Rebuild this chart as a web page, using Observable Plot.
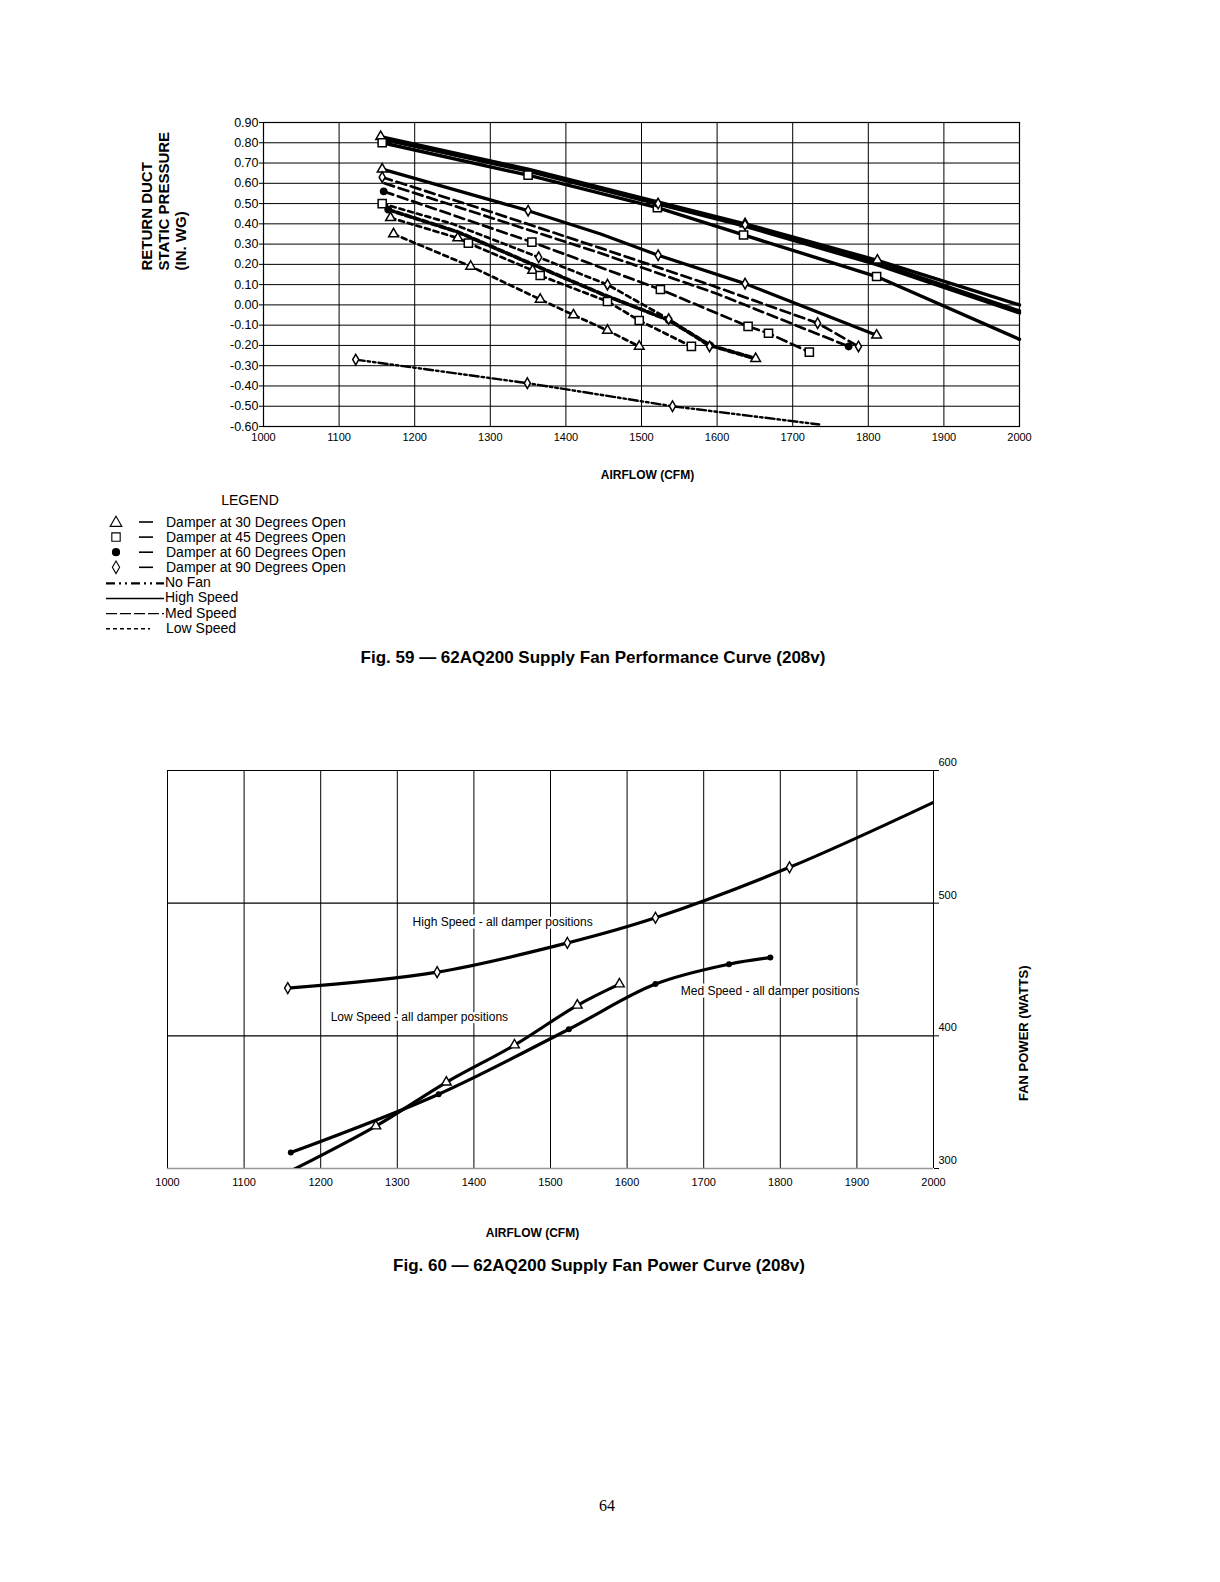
<!DOCTYPE html>
<html><head><meta charset="utf-8">
<script src="https://cdn.jsdelivr.net/npm/d3@7"></script>
<script src="https://cdn.jsdelivr.net/npm/@observablehq/plot@0.6"></script>
<style>
body{margin:0;background:#fff;width:1220px;height:1582px;position:relative;font-family:"Liberation Sans",Arial,sans-serif;color:#000;overflow:hidden}
.abs{position:absolute;white-space:nowrap}
.cap{font-weight:bold;font-size:17px;line-height:20px;transform:translateX(-50%)}
</style></head><body>
<div id="top" class="abs" style="left:0;top:0"></div>
<div id="legend" class="abs" style="left:0;top:485px"></div>
<div class="abs cap" style="left:593px;top:648px">Fig. 59 — 62AQ200 Supply Fan Performance Curve (208v)</div>
<div id="bottom" class="abs" style="left:0;top:700px"></div>
<div class="abs cap" style="left:599px;top:1256px">Fig. 60 — 62AQ200 Supply Fan Power Curve (208v)</div>
<div class="abs" style="left:607px;top:1497px;transform:translateX(-50%);font-family:'Liberation Serif','DejaVu Serif',serif;font-size:16px">64</div>
<script>
// ---------- shared ticks ----------
const airflowTicks = [1000,1100,1200,1300,1400,1500,1600,1700,1800,1900,2000];
const pressureTicks = [0.9,0.8,0.7,0.6,0.5,0.4,0.3,0.2,0.1,0,-0.1,-0.2,-0.3,-0.4,-0.5,-0.6];
const powerTicks = [300,400,500,600];

// ---------- Fig. 59 data: [airflow CFM, static pressure in. wg, marker] ----------
// marker: t = triangle (30°), s = square (45°), c = circle (60°), d = diamond (90°), "" = none
const high30 = [[1155,0.83,"t"],[1350,0.67,""],[1520,0.51,""],[1637,0.40,"t"],[1812,0.22,"t"],[2000,0.00,""]];
const high60 = [[1155,0.82,""],[1350,0.66,""],[1520,0.50,"c"],[1635,0.39,""],[1810,0.20,""],[2000,-0.04,""]];
const high90 = [[1155,0.82,""],[1350,0.665,""],[1522,0.50,"d"],[1637,0.395,"d"],[1810,0.21,""],[2000,-0.03,""]];
const high45 = [[1157,0.80,"s"],[1350,0.64,"s"],[1521,0.48,"s"],[1635,0.345,"s"],[1811,0.14,"s"],[2000,-0.17,""]];
const med30 = [[1157,0.67,"t"],[1350,0.465,"d"],[1446,0.35,""],[1522,0.245,"d"],[1637,0.105,"d"],[1811,-0.15,"t"]];
const med90 = [[1157,0.63,"d"],[1300,0.46,""],[1446,0.28,""],[1590,0.10,""],[1733,-0.09,"d"],[1787,-0.205,"d"]];
const med60 = [[1160,0.60,""],[1446,0.255,""],[1600,0.055,""],[1774,-0.205,"c"]];
const med45 = [[1159,0.56,"c"],[1355,0.31,"s"],[1446,0.185,""],[1525,0.076,"s"],[1641,-0.106,"s"],[1668,-0.14,"s"],[1722,-0.233,"s"]];
const low90 = [[1157,0.50,"s"],[1250,0.40,""],[1364,0.235,"d"],[1455,0.10,"d"],[1536,-0.07,"d"],[1590,-0.205,"d"]];
const low60 = [[1165,0.47,"c"],[1257,0.36,""],[1356,0.20,""],[1450,0.05,""],[1536,-0.075,"c"],[1591,-0.20,"c"],[1651,-0.265,"t"]];
const low45 = [[1168,0.43,"t"],[1257,0.33,"t"],[1271,0.305,"s"],[1356,0.17,"t"],[1366,0.145,"s"],[1455,0.017,"s"],[1497,-0.077,"s"],[1566,-0.205,"s"]];
const low30 = [[1172,0.35,"t"],[1274,0.19,"t"],[1366,0.027,"t"],[1410,-0.05,"t"],[1455,-0.126,"t"],[1497,-0.205,"t"]];
const noFan = [[1122,-0.27,"d"],[1349,-0.386,"d"],[1541,-0.50,"d"],[1735,-0.59,""]];

// series name, line style, points
const topSeries = [
  ["High 30°","solid",high30],["High 60°","solid",high60],["High 90°","solid",high90],["High 45°","solid",high45],
  ["Med 30°","solidMed",med30],["Med 90°","long",med90],["Med 60°","long",med60],["Med 45°","long",med45],
  ["Low 90°","short",low90],["Low 60°","heavyShort",low60],["Low 45°","short",low45],["Low 30°","short",low30],
  ["No Fan","dashDot",noFan]
];

// ---------- Fig. 60 data: [airflow CFM, fan power W, marker] ----------
const powerHigh = [[1157,436,"d"],[1352,448,"d"],[1522,470,"d"],[1637,489,"d"],[1812,527,"d"],[2000,576,""]];
const powerMed = [[1161,312,"c"],[1354,356,"c"],[1524,405,"c"],[1637,439,"c"],[1733,454,"c"],[1787,459,"c"]];
const powerLow = [[1150,295,""],[1272,332,"t"],[1364,365,"t"],[1453,393,"t"],[1535,423,"t"],[1590,439,"t"]];
const powerLabels = ["High Speed - all damper positions","Med Speed - all damper positions","Low Speed - all damper positions"];
const powerLabelAt = [[1320,486],[1670,434],[1213,414]];

const FONT = '"Liberation Sans", Arial, sans-serif';
const styles = {
  solid:{w:3.4,dash:null}, solidMed:{w:3.2,dash:null}, long:{w:2.7,dash:"10,5"},
  short:{w:2.7,dash:"5,4"}, heavyShort:{w:3.8,dash:"6,3"}, dashDot:{w:2.4,dash:"9,3,2.5,3,2.5,3"}
};
const symbols = {t:"triangle", s:"square", c:"circle", d:"diamond"};
const symR = {t:3.6, s:4.6, c:3.2, d:3.2};

const topRows = [];
for (const [name, style, pts] of topSeries)
  for (const [cfm, sp, mk] of pts) topRows.push({name, style, cfm, sp, mk});

const topMarks = [
  Plot.gridY(pressureTicks, {stroke:"#000", strokeOpacity:1, strokeWidth:1}),
  Plot.gridX(airflowTicks, {stroke:"#000", strokeOpacity:1, strokeWidth:1}),
  Plot.frame({stroke:"#000", strokeWidth:1.2}),
  Plot.axisX(airflowTicks, {tickSize:0, tickPadding:7, tickFormat:d=>String(d), label:null, fontSize:11}),
  Plot.axisY(pressureTicks, {tickSize:4, tickPadding:1, tickFormat:d=>d.toFixed(2), label:null, fontSize:12.5}),
];
for (const s of Object.keys(styles)) {
  const rows = topRows.filter(d=>d.style===s);
  if (!rows.length) continue;
  topMarks.push(Plot.line(rows, {x:"cfm", y:"sp", z:"name", stroke:"#000", strokeWidth:styles[s].w, strokeDasharray:styles[s].dash}));
}
for (const k of Object.keys(symbols)) {
  topMarks.push(Plot.dot(topRows.filter(d=>d.mk===k), {x:"cfm", y:"sp", symbol:()=>symbols[k], r:symR[k],
    fill:k==="c"?"#000":"#fff", stroke:"#000", strokeWidth:1.5}));
}
topMarks.push(
  Plot.text(["RETURN DUCT\nSTATIC PRESSURE\n(IN. WG)"], {frameAnchor:"left", dx:-100, dy:-4, rotate:-90, fontWeight:"bold", fontSize:15, lineHeight:1.15}),
  Plot.text(["AIRFLOW (CFM)"], {frameAnchor:"bottom", dx:6, dy:52, fontWeight:"bold", fontSize:12})
);

const topChart = Plot.plot({
  width:1220, height:490, marginLeft:263, marginRight:201, marginTop:122, marginBottom:64,
  style:{fontFamily:FONT, fontSize:"11px", color:"#000", background:"transparent"},
  x:{domain:[1000,2000]}, y:{domain:[-0.6,0.9]},
  marks: topMarks
});
document.getElementById("top").append(topChart);

// ---------- legend ----------
const legendRows = [
  {mk:"t", text:"Damper at 30 Degrees Open"},
  {mk:"s", text:"Damper at 45 Degrees Open"},
  {mk:"c", text:"Damper at 60 Degrees Open"},
  {mk:"d", text:"Damper at 90 Degrees Open"},
  {line:"dashDot", text:"No Fan"},
  {line:"solid", text:"High Speed"},
  {line:"long", text:"Med Speed"},
  {line:"short", text:"Low Speed"}
];
const lg = d3.create("svg").attr("width",400).attr("height",150).style("font-family",FONT);
lg.append("text").attr("x",250).attr("y",15).attr("text-anchor","middle").attr("dy","0.35em").attr("font-size",14).text("LEGEND");
legendRows.forEach((r,i)=>{
  const y = 37 + i*15.1;
  if (r.mk) {
    const sym = {t:d3.symbolTriangle, s:d3.symbolSquare, c:d3.symbolCircle, d:d3.symbolDiamond}[r.mk];
    const size = {t:60, s:70, c:40, d:45}[r.mk];
    lg.append("path").attr("d", d3.symbol(sym, size)()).attr("transform",`translate(116,${y+(r.mk==="t"?1:0)})`)
      .attr("fill", r.mk==="c"?"#000":"#fff").attr("stroke","#000").attr("stroke-width",1.1);
    lg.append("line").attr("x1",139).attr("x2",153).attr("y1",y).attr("y2",y).attr("stroke","#000").attr("stroke-width",1.6);
  } else {
    const st = {dashDot:"9,4,2,4,2,4", solid:null, long:"11,3", short:"4,3"}[r.line];
    lg.append("line").attr("x1",106).attr("x2",r.line==="short"?150:164).attr("y1",y+1).attr("y2",y+1)
      .attr("stroke","#000").attr("stroke-width",r.line==="dashDot"?2.2:1.4).attr("stroke-dasharray",st);
  }
  lg.append("text").attr("x",r.mk?166:(r.line==="short"?166:165)).attr("y",y).attr("dy","0.35em").attr("font-size",14).text(r.text);
});
document.getElementById("legend").append(lg.node());

// ---------- Fig. 60 ----------
const toRows = (name, pts) => pts.map(([cfm,w,mk])=>({name, cfm, w, mk}));
const powerRows = [...toRows("High", powerHigh), ...toRows("Med", powerMed), ...toRows("Low", powerLow)];
const labelRows = powerLabels.map((t,i)=>({text:t, cfm:powerLabelAt[i][0], w:powerLabelAt[i][1]}));

const bottomChart = Plot.plot({
  width:1220, height:560, marginLeft:167, marginRight:287, marginTop:70, marginBottom:92,
  style:{fontFamily:FONT, fontSize:"11px", color:"#000", background:"transparent"},
  x:{domain:[1000,2000]}, y:{domain:[300,600]},
  marks:[
    Plot.gridX(airflowTicks, {stroke:"#000", strokeOpacity:1, strokeWidth:1}),
    Plot.gridY([400,500,600], {stroke:"#000", strokeOpacity:1, strokeWidth:1.2}),
    Plot.ruleY([300], {stroke:"#999", strokeWidth:1.5}),
    Plot.axisX(airflowTicks, {tickSize:0, tickPadding:10, tickFormat:d=>String(d), label:null, fontSize:11}),
    Plot.axisY(powerTicks, {anchor:"right", tickSize:5, tickFormat:()=>"", label:null}),
    Plot.text(powerTicks, {y:d=>d, text:d=>String(d), frameAnchor:"right", dx:5, dy:-8, textAnchor:"start", fontSize:11}),
    Plot.line(powerRows, {x:"cfm", y:"w", z:"name", stroke:"#000", strokeWidth:3.2, curve:"catmull-rom", clip:true}),
    Plot.dot(powerRows.filter(d=>d.mk==="d"), {x:"cfm", y:"w", symbol:"diamond", r:3.3, fill:"#fff", stroke:"#000", strokeWidth:1.4}),
    Plot.dot(powerRows.filter(d=>d.mk==="c"), {x:"cfm", y:"w", symbol:"circle", r:3, fill:"#000"}),
    Plot.dot(powerRows.filter(d=>d.mk==="t"), {x:"cfm", y:"w", symbol:"triangle", r:3.6, fill:"#fff", stroke:"#000", strokeWidth:1.4}),
    Plot.text(labelRows, {x:"cfm", y:"w", text:"text", textAnchor:"start", fontSize:12, fill:"#000", stroke:"#fff", strokeWidth:5, paintOrder:"stroke"}),
    Plot.text(["FAN POWER (WATTS)"], {frameAnchor:"right", dx:90, dy:-4, rotate:-90, fontWeight:"bold", fontSize:13}),
    Plot.text(["AIRFLOW (CFM)"], {frameAnchor:"bottom", dx:-18, dy:68, fontWeight:"bold", fontSize:12})
  ]
});
document.getElementById("bottom").append(bottomChart);
</script>
</body></html>
